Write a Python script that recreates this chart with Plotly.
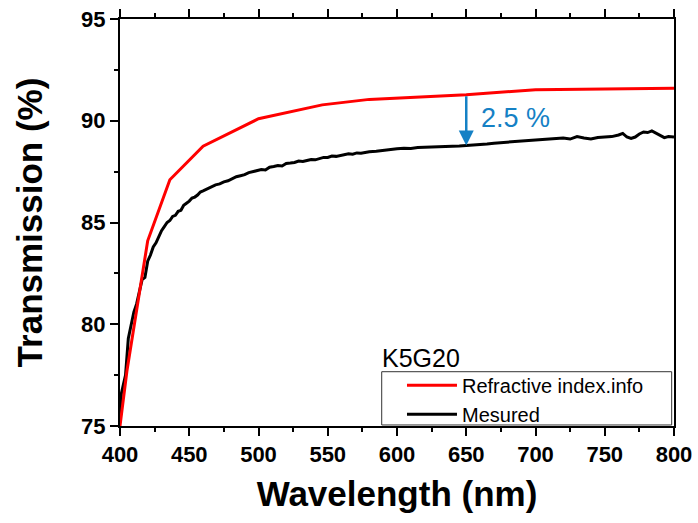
import plotly.graph_objects as go

# Reference (refractiveindex.info) curve
wav_ref = [400, 405, 420, 436, 460, 500, 546, 580, 650, 700, 800]
T_ref = [75.0, 77.7, 84.1, 87.1, 88.75, 90.1, 90.78, 91.05, 91.28, 91.52, 91.6]

wav_meas = [400, 401, 402, 404, 406, 408, 410, 412, 414, 416, 418, 420, 422, 424, 426, 428,
            430, 432, 434, 436, 438, 440, 442, 444, 446, 448, 450, 452, 454, 456, 458, 460,
            463, 466, 469, 472, 475, 478, 481, 484, 487, 490, 493, 496, 499,
            502, 505, 508, 511, 514, 517, 520, 523, 526, 529, 532, 535, 538, 541, 544, 547,
            550, 553, 556, 559, 562, 565, 568, 571, 574, 577, 580, 585, 590, 595, 600,
            605, 610, 615, 620, 625, 630, 635, 640, 645, 650, 655, 660, 665, 670, 675,
            680, 685, 690, 695, 700, 705, 710, 715, 720, 725, 730, 735, 740, 745, 750,
            755, 760, 763, 766, 769, 772, 775, 778, 781, 784, 787, 790, 793, 796, 800]
T_meas = [75.3, 76.6, 76.9, 77.5, 79.3, 79.9, 80.6, 81.0, 81.6, 82.2, 82.3, 83.1, 83.4, 83.8, 84.0, 84.3,
          84.6, 84.8, 85.0, 85.1, 85.3, 85.35, 85.55, 85.6, 85.85, 85.95, 86.05, 86.2, 86.25, 86.35, 86.5, 86.55,
          86.65, 86.75, 86.85, 86.9, 87.0, 87.05, 87.15, 87.25, 87.3, 87.35, 87.45, 87.5, 87.52,
          87.6, 87.58, 87.72, 87.75, 87.8, 87.78, 87.9, 87.92, 87.95, 88.02, 88.0, 88.05, 88.1, 88.08, 88.15, 88.2,
          88.2, 88.27, 88.25, 88.3, 88.35, 88.38, 88.36, 88.42, 88.4, 88.45, 88.48, 88.5, 88.55, 88.58, 88.62,
          88.65, 88.64, 88.68, 88.7, 88.7, 88.72, 88.74, 88.75, 88.76, 88.78, 88.8, 88.84, 88.86, 88.9, 88.92,
          88.95, 88.98, 89.0, 89.02, 89.05, 89.08, 89.1, 89.13, 89.15, 89.1, 89.22, 89.15, 89.1, 89.18, 89.2,
          89.22, 89.3, 89.38, 89.2, 89.13, 89.2, 89.35, 89.45, 89.42, 89.5, 89.38, 89.3, 89.17, 89.22, 89.2]

x_ticks = [400, 450, 500, 550, 600, 650, 700, 750, 800]
y_ticks = [75, 80, 85, 90, 95]

arrow_wav = 650
gap_label = "2.5 %"
sample_label = "K5G20"

blue = "#1581c5"
FONT = "Arial, Liberation Sans"

fig = go.Figure()
fig.add_trace(go.Scatter(x=wav_meas, y=T_meas, mode="lines", name="Mesured",
                         line=dict(color="black", width=3), legendrank=2))
fig.add_trace(go.Scatter(x=wav_ref, y=T_ref, mode="lines", name="Refractive index.info",
                         line=dict(color="#ff0000", width=3), legendrank=1))

y_top = T_ref[wav_ref.index(arrow_wav)]
y_bot = T_meas[wav_meas.index(arrow_wav)]
fig.add_annotation(x=arrow_wav, y=y_bot, ax=arrow_wav, ay=y_top, xref="x", yref="y",
                   axref="x", ayref="y", showarrow=True, arrowhead=2, arrowsize=1.2,
                   arrowwidth=2.5, arrowcolor=blue, text="")
fig.add_annotation(x=arrow_wav, y=(y_top + y_bot) / 2 + 0.1, xref="x", yref="y",
                   text=gap_label, showarrow=False, xanchor="left", xshift=13,
                   font=dict(family=FONT, size=27, color=blue))
fig.add_annotation(x=0.4724, y=0.128, xref="paper", yref="paper", text=sample_label,
                   showarrow=False, xanchor="left", yanchor="bottom", xshift=-2,
                   font=dict(family=FONT, size=25, color="black"))

# legend frame
fig.add_shape(type="rect", xref="paper", yref="paper", x0=0.4724, x1=0.9958, y0=0.0025, y1=0.1334,
              line=dict(color="#333333", width=1), fillcolor="rgba(0,0,0,0)", layer="above")

axis_common = dict(showline=True, linecolor="black", linewidth=2, ticks="outside",
                   ticklen=8, tickwidth=2, tickcolor="black", showgrid=False, zeroline=False,
                   tickfont=dict(family=FONT, size=22, color="black", weight="bold"))

fig.update_xaxes(range=[400, 800], tickvals=x_ticks, mirror="ticks",
                 minor=dict(ticks="outside", ticklen=4, tickwidth=1.5, dtick=25, tick0=400, tickcolor="black"),
                 title=dict(text="Wavelength (nm)", standoff=15,
                            font=dict(family=FONT, size=35, color="black", weight="bold")),
                 **axis_common)
fig.update_yaxes(range=[75, 95], tickvals=y_ticks, mirror=True,
                 minor=dict(ticks="outside", ticklen=4, tickwidth=1.5, dtick=2.5, tick0=75, tickcolor="black"),
                 title=dict(text="Transmission (%)", standoff=28,
                            font=dict(family=FONT, size=35, color="black", weight="bold")),
                 **axis_common)

fig.update_layout(
    width=698, height=523,
    margin=dict(l=120, r=24, t=19, b=97, autoexpand=False),
    plot_bgcolor="white", paper_bgcolor="white",
    showlegend=True,
    legend=dict(x=0.509, y=0.148, xanchor="left", yanchor="top",
                bgcolor="rgba(0,0,0,0)", borderwidth=0,
                font=dict(family=FONT, size=20, color="black"),
                tracegroupgap=0, itemwidth=50),
)

fig.write_html("out.html", config={"displayModeBar": False},
               post_script="document.body.style.margin='0';")
